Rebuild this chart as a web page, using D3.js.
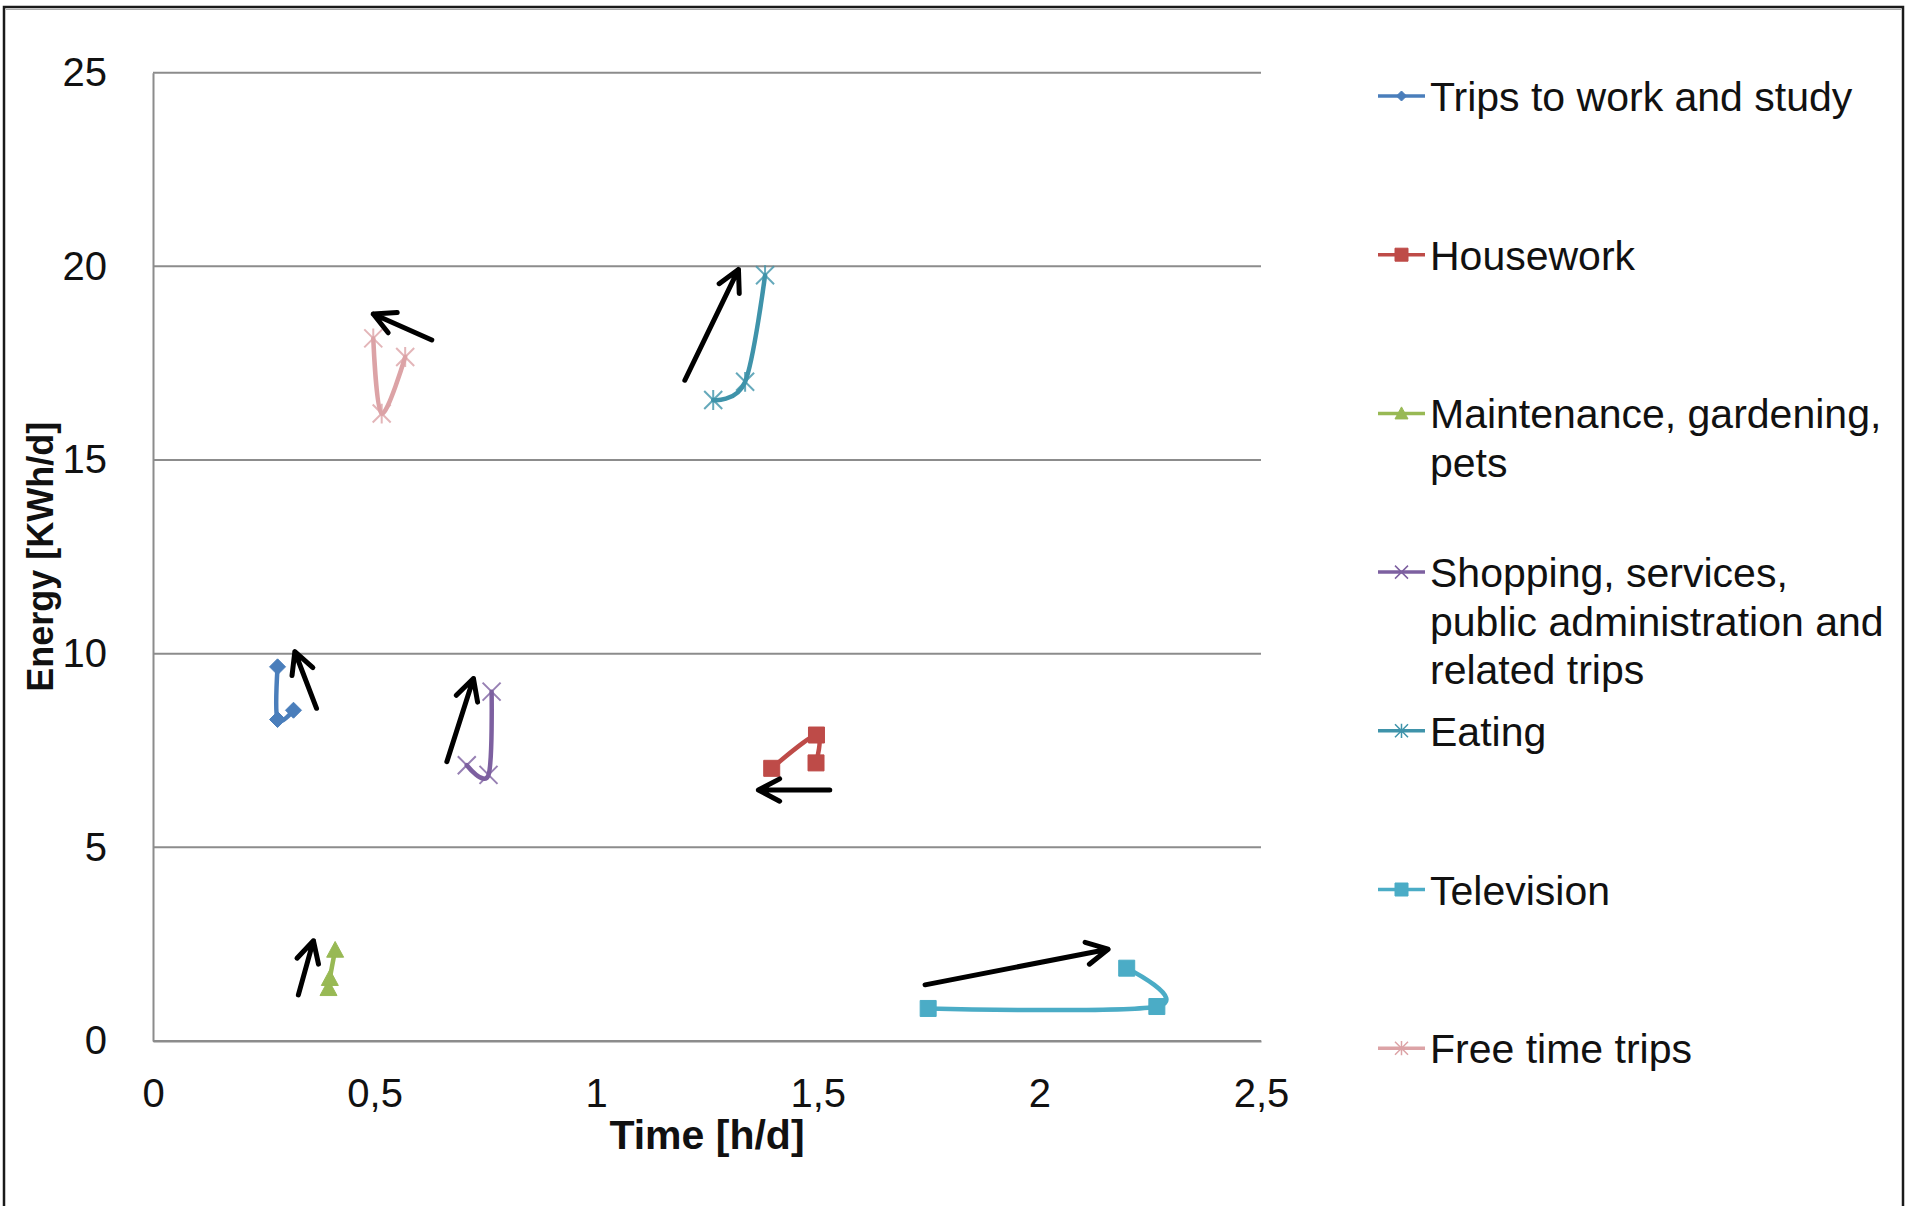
<!DOCTYPE html>
<html>
<head>
<meta charset="utf-8">
<script src="https://cdn.jsdelivr.net/npm/d3@7"></script>
<style>
  html, body { margin: 0; padding: 0; background: #fff; }
  svg { display: block; font-family: "Liberation Sans", Arial, sans-serif; }
</style>
</head>
<body>
<svg id="chart" width="1907" height="1206"></svg>
<script>
// ---------------- data ----------------
const seriesNames = [
  ["Trips to work and study"],
  ["Housework"],
  ["Maintenance, gardening,", "pets"],
  ["Shopping, services,", "public administration and", "related trips"],
  ["Eating"],
  ["Television"],
  ["Free time trips"]
];
const tripsWork   = [[0.281, 9.66], [0.281, 8.30], [0.317, 8.54]];
const housework   = [[1.396, 7.04], [1.497, 7.90], [1.496, 7.18]];
const maintenance = [[0.396, 1.36], [0.399, 1.62], [0.411, 2.35]];
const shopping    = [[0.708, 7.12], [0.757, 6.87], [0.764, 9.02]];
const eating      = [[1.264, 16.55], [1.336, 17.02], [1.381, 19.77]];
const television  = [[1.749, 0.84], [2.265, 0.89], [2.197, 1.88]];
const freeTime    = [[0.497, 18.14], [0.516, 16.20], [0.569, 17.66]];

// annotation arrows (from -> to) in data units
const arrowFrom = [[0.369, 8.59], [1.527, 6.48], [0.328, 1.19], [0.663, 7.21], [1.200, 17.06], [1.742, 1.45], [0.629, 18.10]];
const arrowTo   = [[0.320, 10.05], [1.366, 6.48], [0.362, 2.59], [0.723, 9.36], [1.321, 19.92], [2.155, 2.37], [0.497, 18.77]];

const xTicks = [0, 0.5, 1, 1.5, 2, 2.5];
const xTickLabels = ["0", "0,5", "1", "1,5", "2", "2,5"];
const yTicks = [0, 5, 10, 15, 20, 25];
const xTitle = "Time [h/d]";
const yTitle = "Energy [KWh/d]";

// ---------------- styles ----------------
const seriesData = [tripsWork, housework, maintenance, shopping, eating, television, freeTime];
const colors  = ["#4A7EBB", "#BE4B48", "#98B954", "#7D60A0", "#3F93AA", "#4BACC6", "#DCA3A6"];
const markers = ["diamond", "square", "triangle", "x", "star", "square", "star"];

const svg = d3.select("#chart");
const plot = { left: 153, right: 1261, top: 72.7, bottom: 1041 };

const x = d3.scaleLinear().domain([0, 2.5]).range([plot.left, plot.right]);
const y = d3.scaleLinear().domain([0, 25]).range([plot.bottom, plot.top]);

// outer border
svg.append("rect").attr("x", 4).attr("y", 7).attr("width", 1899).attr("height", 1210)
  .attr("fill", "none").attr("stroke", "#1a1a1a").attr("stroke-width", 2.5);
svg.append("line").attr("x1", 6).attr("x2", 1901).attr("y1", 9.5).attr("y2", 9.5)
  .attr("stroke", "#aaa").attr("stroke-width", 1.2);

// gridlines
svg.append("g").selectAll("line").data(yTicks).join("line")
  .attr("x1", plot.left).attr("x2", plot.right)
  .attr("y1", d => y(d)).attr("y2", d => y(d))
  .attr("stroke", "#8c8c8c").attr("stroke-width", 2);

// axes
const xAxis = svg.append("g").attr("transform", `translate(0,${plot.bottom})`)
  .call(d3.axisBottom(x).tickValues(xTicks).tickFormat((d, i) => xTickLabels[i]).tickSize(0).tickPadding(38));
const yAxis = svg.append("g").attr("transform", `translate(${plot.left},0)`)
  .call(d3.axisLeft(y).tickValues(yTicks).tickSize(0).tickPadding(46));
[xAxis, yAxis].forEach(a => {
  a.select(".domain").attr("stroke", "#8c8c8c").attr("stroke-width", 2);
  a.selectAll("text").attr("font-size", 40).attr("fill", "#111")
    .attr("font-family", "'Liberation Sans', Arial, sans-serif");
});

// axis titles
svg.append("text").attr("x", (plot.left + plot.right) / 2).attr("y", 1149)
  .attr("text-anchor", "middle").attr("font-size", 41).attr("font-weight", "bold").attr("fill", "#111")
  .text(xTitle);
svg.append("text").attr("transform", `translate(53,${(plot.top + plot.bottom) / 2}) rotate(-90)`)
  .attr("text-anchor", "middle").attr("font-size", 36).attr("font-weight", "bold").attr("fill", "#111")
  .text(yTitle);

// marker paths
function markerPath(type, s) {
  const h = s / 2;
  switch (type) {
    case "diamond": return `M0,${-h}L${h},0L0,${h}L${-h},0Z`;
    case "square": return `M${-h},${-h}H${h}V${h}H${-h}Z`;
    case "triangle": return `M0,${-h}L${h},${h * 0.85}L${-h},${h * 0.85}Z`;
    case "x": return `M${-h},${-h}L${h},${h}M${-h},${h}L${h},${-h}`;
    case "star": return `M${-h},${-h}L${h},${h}M${-h},${h}L${h},${-h}M0,${-h * 1.1}V${h * 1.1}`;
  }
}
const filled = t => t === "diamond" || t === "square" || t === "triangle";

// series lines
const line = d3.line().x(d => x(d[0])).y(d => y(d[1])).curve(d3.curveCatmullRom.alpha(0));
seriesData.forEach((data, i) => {
  const g = svg.append("g");
  g.append("path").datum(data).attr("d", line)
    .attr("fill", "none").attr("stroke", colors[i]).attr("stroke-width", 4.5)
    .attr("stroke-linejoin", "round").attr("stroke-linecap", "round");
  const size = markers[i] === "diamond" ? 16 : (markers[i] === "triangle" ? 17 : (filled(markers[i]) ? 16 : 18));
  g.selectAll("path.m").data(data).join("path").attr("class", "m")
    .attr("transform", d => `translate(${x(d[0])},${y(d[1])})`)
    .attr("d", markerPath(markers[i], size))
    .attr("fill", filled(markers[i]) ? colors[i] : "none")
    .attr("stroke", colors[i]).attr("stroke-width", filled(markers[i]) ? 1 : 2)
    .attr("opacity", filled(markers[i]) ? 1 : 0.8);
});

// arrows
const ag = svg.append("g");
arrowFrom.forEach((f, i) => {
  const t = arrowTo[i];
  const x0 = x(f[0]), y0 = y(f[1]), x1 = x(t[0]), y1 = y(t[1]);
  const ang = Math.atan2(y1 - y0, x1 - x0);
  const L = 24, spread = Math.PI / 6.5;
  const hx1 = x1 - L * Math.cos(ang - spread), hy1 = y1 - L * Math.sin(ang - spread);
  const hx2 = x1 - L * Math.cos(ang + spread), hy2 = y1 - L * Math.sin(ang + spread);
  ag.append("path")
    .attr("d", `M${x0},${y0}L${x1},${y1}M${hx1},${hy1}L${x1},${y1}L${hx2},${hy2}`)
    .attr("fill", "none").attr("stroke", "#000").attr("stroke-width", 5)
    .attr("stroke-linecap", "round").attr("stroke-linejoin", "round");
});

// legend
const legTop = 96, legStep = 158.7, lineGap = 48.5, fs = 41;
const legX0 = 1378, legX1 = 1425, legText = 1430;
seriesNames.forEach((lines, i) => {
  const cy = legTop + i * legStep;
  const g = svg.append("g");
  g.append("line").attr("x1", legX0).attr("x2", legX1).attr("y1", cy).attr("y2", cy)
    .attr("stroke", colors[i]).attr("stroke-width", 3.5);
  const ms = markers[i] === "diamond" ? 10 : 13;
  g.append("path").attr("transform", `translate(${(legX0 + legX1) / 2},${cy})`)
    .attr("d", markerPath(markers[i], ms))
    .attr("fill", filled(markers[i]) ? colors[i] : "none")
    .attr("stroke", colors[i]).attr("stroke-width", filled(markers[i]) ? 1 : 1.5);
  const txt = g.append("text").attr("x", legText).attr("y", cy + 15)
    .attr("font-size", fs).attr("fill", "#111");
  lines.forEach((l, j) => {
    txt.append("tspan").attr("x", legText).attr("dy", j === 0 ? 0 : lineGap).text(l);
  });
});
</script>
</body>
</html>
